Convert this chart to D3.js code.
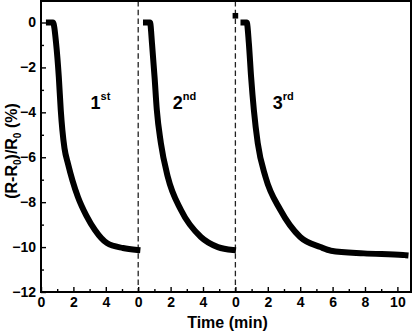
<!DOCTYPE html>
<html><head><meta charset="utf-8">
<script src="https://cdn.jsdelivr.net/npm/d3@7/dist/d3.min.js"></script>
<style>body{margin:0;background:#fff}svg{display:block}</style>
</head><body><svg id="c" width="414" height="333"></svg>
<script>
// ---- data ----
const panelOffsets = [0, 6, 12];           // min, where each run's local time 0 sits
const panelLabels = ["1", "2", "3"];
const panelSups = ["st", "nd", "rd"];

const run1T = [0.49, 0.74, 0.93, 1.10, 1.22, 1.32, 1.45, 1.67, 1.95, 2.28, 2.8, 3.33, 4.07, 5.06, 5.95];
const run1V = [0, 0, -0.91, -2.43, -3.9, -4.8, -5.6, -6.3, -7.05, -7.77, -8.6, -9.24, -9.82, -10.04, -10.13];

const run2T = [0.48, 0.73, 0.85, 1.01, 1.15, 1.40, 1.83, 2.64, 3.87, 4.92, 5.85];
const run2V = [0, 0, -0.91, -2.43, -3.9, -5.37, -6.88, -8.35, -9.55, -10.0, -10.13];

const run3T = [0.5, 0.7, 0.83, 0.97, 1.14, 1.38, 1.86, 2.78, 4.0, 5.25, 5.9, 7.93, 10.34, 10.5];
const run3V = [0, 0, -0.91, -2.43, -3.9, -5.37, -6.88, -8.35, -9.55, -10.0, -10.16, -10.28, -10.35, -10.36];

const markerT = [0];      // lone point at start of run 3 (local time)
const markerV = [0.3];

const xMajorTicks = [0, 2, 4, 6, 8, 10, 12, 14, 16, 18, 20, 22];
const xMajorLabels = ["0", "2", "4", "0", "2", "4", "0", "2", "4", "6", "8", "10"];
const xMinorTicks = [1, 3, 5, 7, 9, 11, 13, 15, 17, 19, 21];
const yMajorTicks = [0, -2, -4, -6, -8, -10, -12];
const yMinorTicks = [-1, -3, -5, -7, -9, -11];
const dividers = [6, 12];

// ---- drawing ----
const svg = d3.select("#c");
const L = 41, R = 411, T = 1, B = 292;
const x = d3.scaleLinear().domain([0, 22.84]).range([L, R]);
const y = d3.scaleLinear().domain([-12, 0]).range([B, 22.5]);
const FONT = "'Liberation Sans', Arial, sans-serif";

// dividers
svg.selectAll("line.div").data(dividers).join("line")
  .attr("x1", d => x(d)).attr("x2", d => x(d))
  .attr("y1", T).attr("y2", B)
  .attr("stroke", "#222").attr("stroke-width", 1.3)
  .attr("stroke-dasharray", "5.5,3.2");

// curves
const runs = [[run1T, run1V, 0], [run2T, run2V, 1], [run3T, run3V, 2]];
const line = d3.line().x(d => x(d[0])).y(d => y(d[1])).curve(d3.curveMonotoneX);
runs.forEach(([ts, vs, k]) => {
  const pts = ts.map((t, i) => [t + panelOffsets[k], vs[i]]);
  svg.append("path").attr("d", line(pts))
    .attr("fill", "none").attr("stroke", "#000")
    .attr("stroke-width", 6).attr("stroke-linecap", "square")
    .attr("stroke-linejoin", "miter");
});

// lone marker
svg.selectAll("rect.mk").data(markerT).join("rect")
  .attr("x", (d) => x(d + panelOffsets[2]) - 2.8)
  .attr("y", (d, i) => y(markerV[i]) - 2.8)
  .attr("width", 5.6).attr("height", 5.6).attr("fill", "#000");

// axes
function styleAxis(g) {
  g.select(".domain").remove();
  g.selectAll(".tick line").attr("stroke", "#000").attr("stroke-width", 1.4);
  g.selectAll(".tick text").attr("font-family", FONT).attr("font-weight", "bold")
    .attr("font-size", 14).attr("fill", "#000");
}
svg.append("g").attr("transform", `translate(0,${B})`)
  .call(d3.axisBottom(x).tickValues(xMajorTicks).tickSizeInner(-5).tickSizeOuter(0)
    .tickPadding(5).tickFormat((d, i) => xMajorLabels[i]))
  .call(styleAxis);
svg.append("g").attr("transform", `translate(0,${B})`)
  .call(d3.axisBottom(x).tickValues(xMinorTicks).tickSizeInner(-3).tickSizeOuter(0)
    .tickFormat(() => ""))
  .call(styleAxis);
svg.append("g").attr("transform", `translate(${L},0)`)
  .call(d3.axisLeft(y).tickValues(yMajorTicks).tickSizeInner(-5).tickSizeOuter(0)
    .tickPadding(5).tickFormat(d3.format("d")))
  .call(styleAxis);
svg.append("g").attr("transform", `translate(${L},0)`)
  .call(d3.axisLeft(y).tickValues(yMinorTicks).tickSizeInner(-3).tickSizeOuter(0)
    .tickFormat(() => ""))
  .call(styleAxis);

// frame
svg.append("rect").attr("x", L).attr("y", T).attr("width", R - L).attr("height", B - T)
  .attr("fill", "none").attr("stroke", "#000").attr("stroke-width", 2);

// run labels
const labelX = [90.5, 172.7, 272.7];
panelLabels.forEach((s, i) => {
  const t = svg.append("text").attr("x", labelX[i]).attr("y", 108.5)
    .attr("font-family", FONT).attr("font-weight", "bold").attr("font-size", 18).attr("fill", "#000");
  t.append("tspan").text(s);
  t.append("tspan").attr("font-size", 11).attr("dy", -8.5).text(panelSups[i]);
});

// axis titles
svg.append("text").attr("x", 227.5).attr("y", 327.5).attr("text-anchor", "middle")
  .attr("font-family", FONT).attr("font-weight", "bold").attr("font-size", 16)
  .text("Time (min)");

const yt = svg.append("text").attr("transform", "translate(17,151) rotate(-90)")
  .attr("text-anchor", "middle")
  .attr("font-family", FONT).attr("font-weight", "bold").attr("font-size", 16);
yt.append("tspan").text("(R-R");
yt.append("tspan").attr("font-size", 10).attr("dy", 4).text("0");
yt.append("tspan").attr("dy", -4).text(")/R");
yt.append("tspan").attr("font-size", 10).attr("dy", 4).text("0");
yt.append("tspan").attr("dy", -4).text(" (%)");
</script></body></html>
